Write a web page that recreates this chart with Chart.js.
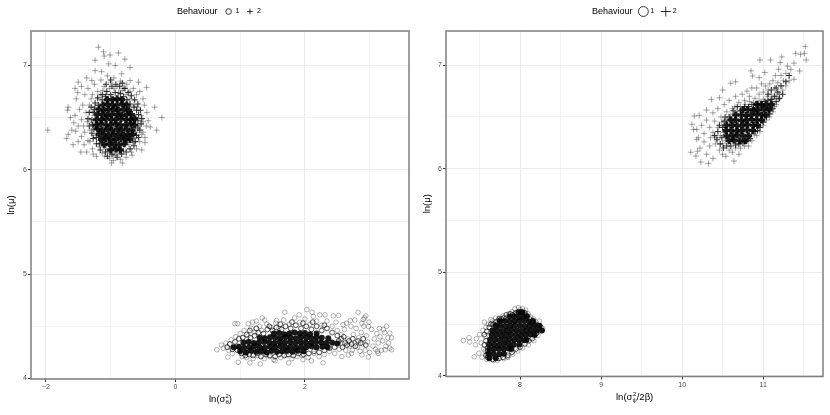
<!DOCTYPE html>
<html>
<head>
<meta charset="utf-8">
<title>Behaviour scatter</title>
<script src="https://cdn.jsdelivr.net/npm/chart.js@4"></script>
<style>
  body { margin: 0; background: #fff; font-family: "Liberation Sans", sans-serif; }
  #page { position: relative; width: 830px; height: 415px; overflow: hidden; }
  canvas { position: absolute; top: 0; filter: blur(0.35px); }
  .lab { position: absolute; white-space: nowrap; color: #000; }
  .stack { display: inline-flex; flex-direction: column; vertical-align: middle; font-size: 6px; line-height: 6px; text-align: center; }
</style>
</head>
<body>
<div id="page">
  <canvas id="leftChart"></canvas>
  <canvas id="rightChart"></canvas>
  <div class="lab" style="left:177px;top:6px;font-size:9px">Behaviour</div>
  <div class="lab" style="left:592px;top:6px;font-size:9px">Behaviour</div>
  <div class="lab" style="left:209px;top:393px;font-size:9.5px">ln(σ<span class="stack"><span>2</span><span>θ</span></span>)</div>
  <div class="lab" style="left:616px;top:391px;font-size:9.5px">ln(σ<span class="stack"><span>2</span><span>ψ</span></span>/2β)</div>
</div>
<script>
// left panel: ln(sigma^2) against ln(mu)
const leftCircles = [[.64,4.275],[.71,4.32],[.92,4.525],[.96,4.525],[1.125,4.525],[1.19,4.54],[1.25,4.55],[1.34,4.58],[1.38,4.56],[1.69,4.635],[1.56,4.555],[1.91,4.61],[2.03,4.66],[2.11,4.635],[2.13,4.595],[2.23,4.61],[2.31,4.61],[2.44,4.6],[2.52,4.605],[2.82,4.635],[2.94,4.6],[2.9,4.565],[2.7,4.555],[2.59,4.515],[2.88,4.53],[3.26,4.5],[3.21,4.47],[3.31,4.435],[3.34,4.39],[3.29,4.34],[3.34,4.275],[3.24,4.275],[3.13,4.24],[2.98,4.205],[2.88,4.225],[2.67,4.225],[2.57,4.21],[2.28,4.15],[2.1,4.17],[1.97,4.18],[1.75,4.15],[1.54,4.17],[1.31,4.14],[1.15,4.15],[.97,4.155],[.81,4.205],
  [.74,4.29],[.78,4.34],[.82,4.27],[.86,4.37],[.88,4.24],[.93,4.4],[.95,4.31],[1.0,4.43],[1.03,4.21],[1.06,4.46],[1.1,4.2],[1.12,4.41],[1.17,4.48],[1.2,4.19],[1.23,4.44],[1.27,4.22],[1.3,4.5],[1.33,4.46],[1.37,4.19],[1.41,4.52],[1.45,4.21],[1.48,4.49],[1.52,4.18],[1.55,4.53],[1.6,4.48],[1.63,4.2],[1.67,4.56],[1.72,4.22],[1.76,4.52],[1.8,4.19],[1.84,4.58],[1.88,4.21],[1.92,4.54],[1.96,4.22],[2.0,4.57],[2.05,4.2],[2.08,4.52],[2.14,4.24],[2.18,4.55],[2.22,4.21],[2.26,4.51],[2.3,4.23],[2.34,4.55],[2.38,4.26],[2.42,4.5],[2.46,4.24],[2.5,4.46],[2.53,4.28],[2.56,4.42],[2.58,4.33],[2.61,4.47],[2.63,4.27],[2.66,4.38],[2.69,4.31],[2.71,4.5],[2.73,4.27],[2.75,4.42],[2.77,4.34],[2.79,4.48],[2.81,4.3],[2.83,4.39],[2.85,4.26],[2.87,4.44],[2.89,4.33],[2.91,4.5],[2.93,4.27],[2.95,4.41],[2.97,4.35],[2.99,4.54],[3.0,4.25],[3.03,4.47],[3.05,4.31],[3.07,4.38],[3.09,4.28],[3.11,4.43],[3.13,4.34],[3.16,4.4],[3.18,4.27],[3.2,4.36],[3.23,4.44],[3.25,4.31],[3.28,4.39],[3.31,4.29],[2.92,4.58],[2.98,4.5],[2.77,4.56],[2.64,4.53],[2.48,4.54],[3.15,4.48],[3.12,4.26],[2.72,4.24]];
const leftCirclesMid = [[.8,4.3],[.84,4.33],[.88,4.28],[.92,4.35],[.96,4.27],[.98,4.38],[1.02,4.24],[1.04,4.39],[1.08,4.22],[1.1,4.42],[1.14,4.23],[1.16,4.39],[1.2,4.22],[1.22,4.41],[1.26,4.24],[1.28,4.44],[1.32,4.21],[1.36,4.43],[1.4,4.23],[1.42,4.47],[1.46,4.22],[1.5,4.46],[1.54,4.21],[1.56,4.49],[1.6,4.23],[1.64,4.47],[1.68,4.22],[1.7,4.5],[1.75,4.23],[1.78,4.48],[1.82,4.22],[1.86,4.51],[1.9,4.24],[1.94,4.48],[1.98,4.23],[2.02,4.5],[2.06,4.24],[2.1,4.47],[2.14,4.26],[2.18,4.5],[2.22,4.25],[2.26,4.46],[2.3,4.27],[2.34,4.48],[2.38,4.29],[2.42,4.44],[2.46,4.3],[2.5,4.41],[2.52,4.36],[2.56,4.38],[2.58,4.3],[2.6,4.4],[2.62,4.34],[2.65,4.32],[2.68,4.36],[2.72,4.33],[2.74,4.38],[2.78,4.31],[2.82,4.36],[2.86,4.34],[2.9,4.38],[2.94,4.32],[1.15,4.46],[1.25,4.48],[1.45,4.5],[1.62,4.52],[1.8,4.54],[1.97,4.53],[2.12,4.54],[2.3,4.51]];
const leftCirclesCore = [[1.0,4.26],[1.09,4.25],[1.17,4.265],[1.25,4.255],[1.33,4.26],[1.41,4.25],[1.49,4.265],[1.57,4.255],[1.65,4.26],[1.73,4.265],[1.81,4.255],[1.89,4.265],[1.98,4.26],
  [.9,4.3],[.98,4.305],[1.06,4.295],[1.14,4.3],[1.22,4.31],[1.3,4.3],[1.38,4.295],[1.46,4.305],[1.54,4.3],[1.62,4.31],[1.7,4.3],[1.78,4.305],[1.86,4.295],[1.94,4.305],[2.02,4.3],[2.1,4.31],[2.18,4.3],[2.27,4.305],[2.35,4.3],
  [1.05,4.345],[1.13,4.35],[1.21,4.34],[1.29,4.345],[1.37,4.35],[1.45,4.345],[1.53,4.34],[1.61,4.35],[1.69,4.345],[1.77,4.35],[1.85,4.34],[1.93,4.35],[2.01,4.345],[2.09,4.34],[2.17,4.35],[2.25,4.345],[2.33,4.34],[2.42,4.345],[2.5,4.335],
  [1.3,4.39],[1.38,4.385],[1.46,4.395],[1.54,4.39],[1.62,4.385],[1.7,4.395],[1.78,4.39],[1.86,4.385],[1.94,4.395],[2.02,4.39],[2.1,4.385],[2.18,4.395],[2.26,4.39],[2.36,4.385],
  [1.52,4.43],[1.6,4.435],[1.68,4.425],[1.76,4.43],[1.84,4.44],[1.92,4.43],[2.0,4.435],[2.08,4.425],[2.18,4.43]];
const leftCrosses = [[-1.97,6.38],[-.21,6.5],[-.32,6.6],[-.29,6.38],[-1.19,7.175],[-1.11,7.13],[-1.01,7.1],[-.88,7.12],[-1.1,7.09],[-1.24,7.05],[-.78,7.06],[-.7,6.98],[-1.03,7.015],[-.93,7.0],[-1.24,6.95],[-1.14,6.94],[-.83,6.92],[-1.5,6.84],[-1.37,6.88],[-1.29,6.855],[-1.55,6.78],[-1.51,6.74],[-1.53,6.68],[-1.655,6.6],[-1.665,6.57],[-1.655,6.34],[-1.68,6.3],[-1.58,6.24],[-1.46,6.17],[-1.27,6.15],[-1.09,6.13],[-.96,6.09],[-.82,6.065],[-.985,6.065],[-.68,6.17],[-.52,6.19],[-.47,6.31],[-.39,6.41],[-.445,6.79],[-.57,6.84],[-.7,6.855],
  [-1.45,6.8],[-1.4,6.72],[-1.35,6.78],[-1.3,6.68],[-1.25,6.82],[-1.2,6.75],[-1.15,6.86],[-1.1,6.8],[-1.05,6.9],[-1.0,6.84],[-.95,6.88],[-.9,6.8],[-.85,6.85],[-.8,6.78],[-.75,6.82],[-.7,6.75],[-.65,6.78],[-.6,6.72],[-.55,6.75],[-.5,6.68],[-.48,6.62],[-.44,6.55],[-.42,6.47],[-.45,6.42],[-.5,6.36],[-.47,6.26],[-.55,6.27],[-.6,6.2],[-.63,6.3],[-.67,6.14],[-.72,6.24],[-.76,6.12],[-.8,6.18],[-.85,6.1],[-.9,6.16],[-.96,6.14],[-1.02,6.11],[-1.07,6.2],[-1.13,6.16],[-1.18,6.22],[-1.22,6.13],[-1.28,6.2],[-1.32,6.27],[-1.37,6.17],[-1.41,6.24],[-1.45,6.32],[-1.5,6.27],[-1.54,6.37],[-1.57,6.45],[-1.6,6.38],[-1.62,6.5],[-1.55,6.52],[-1.5,6.42],[-1.48,6.58],[-1.45,6.48],[-1.43,6.62],[-1.4,6.36],[-1.38,6.55],[-1.35,6.28],[-1.33,6.62],[-1.3,6.45],[-1.28,6.72],[-1.26,6.33],[-1.24,6.6],[-1.22,6.4],[-1.2,6.68],[-1.18,6.28],[-1.16,6.72],[-1.14,6.36],[-1.12,6.76],[-1.09,6.24],[-1.07,6.72],[-1.04,6.18],[-1.02,6.78],[-.98,6.2],[-.95,6.78],[-.92,6.14],[-.88,6.74],[-.84,6.2],[-.82,6.76],[-.78,6.24],[-.76,6.72],[-.72,6.32],[-.7,6.68],[-.66,6.26],[-.64,6.62],[-.61,6.36],[-.58,6.6],[-.56,6.42],[-.53,6.52],[-.52,6.34],[-.5,6.46],[-.6,6.5],[-1.25,6.52],[-1.32,6.38],[-1.42,6.42],[-1.36,6.46]];
const leftCrossesMid = [[-1.05,6.13],[-.98,6.15],[-.9,6.12],[-.83,6.15],[-.76,6.17],[-1.16,6.19],[-1.08,6.17],[-.7,6.2],[-.64,6.23],[-1.22,6.25],[-1.17,6.25],[-.62,6.27],[-.57,6.31],[-1.27,6.3],[-1.22,6.31],[-.6,6.33],[-.55,6.38],[-1.29,6.35],[-1.26,6.39],[-.58,6.4],[-.53,6.44],[-1.33,6.42],[-1.28,6.43],[-.58,6.47],[-.52,6.49],[-1.35,6.49],[-1.29,6.48],[-.57,6.53],[-.54,6.57],[-1.33,6.55],[-1.27,6.55],[-.6,6.57],[-.58,6.63],[-1.3,6.6],[-1.25,6.58],[-.64,6.6],[-.63,6.67],[-1.24,6.64],[-1.19,6.62],[-.7,6.63],[-.68,6.71],[-1.2,6.69],[-1.13,6.67],[-.75,6.67],[-.73,6.74],[-1.13,6.72],[-1.08,6.7],[-.8,6.7],[-.78,6.78],[-1.06,6.75],[-1.0,6.72],[-.85,6.73],[-.86,6.8],[-.98,6.8],[-.93,6.74],[-.92,6.82],[-1.0,6.86],[-1.07,6.82],[-.82,6.83]];
const leftCrossesCore = [[-1.0,6.19],[-.92,6.2],[-.85,6.19],
  [-1.1,6.24],[-1.02,6.25],[-.95,6.24],[-.87,6.24],[-.79,6.25],
  [-1.14,6.29],[-1.07,6.3],[-.99,6.29],[-.92,6.29],[-.84,6.3],[-.76,6.29],[-.7,6.29],
  [-1.18,6.34],[-1.1,6.34],[-1.03,6.33],[-.95,6.34],[-.88,6.34],[-.8,6.33],[-.73,6.34],[-.66,6.34],
  [-1.2,6.39],[-1.13,6.38],[-1.05,6.39],[-.98,6.38],[-.9,6.39],[-.83,6.38],[-.75,6.39],[-.67,6.38],
  [-1.22,6.43],[-1.15,6.44],[-1.07,6.43],[-1.0,6.43],[-.92,6.44],[-.85,6.43],[-.77,6.43],[-.69,6.44],[-.63,6.43],
  [-1.22,6.48],[-1.14,6.48],[-1.07,6.49],[-.99,6.48],[-.92,6.48],[-.84,6.49],[-.76,6.48],[-.69,6.48],[-.63,6.49],
  [-1.2,6.53],[-1.13,6.53],[-1.05,6.52],[-.98,6.53],[-.9,6.53],[-.83,6.52],[-.75,6.53],[-.68,6.53],
  [-1.18,6.58],[-1.1,6.57],[-1.03,6.58],[-.95,6.58],[-.88,6.57],[-.8,6.58],[-.72,6.57],
  [-1.12,6.62],[-1.05,6.63],[-.97,6.62],[-.9,6.62],[-.82,6.63],[-.75,6.62],
  [-1.05,6.67],[-.97,6.67],[-.9,6.68],[-.83,6.67]];

// right panel: ln(sigma^2 / 2 beta) against ln(mu)
const rightCircles = [[7.3,4.343],[7.37,4.37],[7.38,4.327],[7.435,4.185],[7.45,4.3],[7.5,4.4],[7.49,4.22],[7.56,4.52],[7.64,4.546],[7.7,4.56],[7.935,4.649],[7.98,4.66],[8.07,4.636],[8.24,4.53],[8.28,4.459],[7.59,4.16],[7.845,4.185],
  [7.46,4.36],[7.52,4.32],[7.54,4.44],[7.55,4.26],[7.57,4.38],[7.58,4.47],[7.59,4.21],[7.6,4.31],[7.61,4.5],[7.63,4.42],[7.66,4.53],[7.68,4.48],[7.72,4.53],[7.75,4.56],[7.79,4.58],[7.83,4.56],[7.86,4.6],[7.9,4.62],[7.93,4.6],[8.0,4.64],[8.03,4.65],[8.05,4.6],[8.1,4.6],[8.13,4.57],[8.17,4.55],[8.2,4.52],[8.22,4.49],[8.26,4.47],[8.25,4.43],[8.22,4.39],[8.17,4.34],[8.1,4.3],[8.03,4.27],[7.97,4.24],[7.91,4.21],[7.85,4.18],[7.8,4.165],[7.72,4.15],[7.67,4.15],[7.62,4.18],[7.57,4.24],[7.53,4.18]];
const rightCirclesMid = [[7.56,4.3],[7.58,4.34],[7.56,4.4],[7.59,4.43],[7.6,4.27],[7.58,4.2],[7.6,4.18],[7.62,4.47],[7.64,4.5],[7.67,4.5],[7.7,4.52],[7.72,4.5],[7.74,4.55],[7.77,4.55],[7.8,4.56],[7.83,4.59],[7.88,4.6],[7.91,4.59],[7.95,4.61],[8.01,4.62],[8.06,4.61],[8.09,4.58],[8.12,4.55],[8.15,4.52],[8.19,4.5],[8.22,4.46],[8.24,4.44],[8.2,4.41],[8.15,4.36],[8.11,4.34],[8.06,4.31],[8.0,4.28],[7.95,4.26],[7.9,4.23],[7.85,4.2],[7.79,4.18],[7.74,4.17],[7.66,4.16],[7.6,4.24]];
const rightCirclesCore = [[7.62,4.17],[7.7,4.17],
  [7.61,4.215],[7.67,4.215],[7.74,4.21],[7.8,4.215],
  [7.62,4.26],[7.68,4.26],[7.74,4.26],[7.8,4.26],[7.86,4.265],[7.89,4.26],
  [7.62,4.305],[7.68,4.305],[7.74,4.3],[7.8,4.305],[7.86,4.31],[7.92,4.305],[7.99,4.305],
  [7.63,4.35],[7.69,4.35],[7.75,4.345],[7.81,4.35],[7.87,4.355],[7.93,4.35],[7.99,4.35],[8.05,4.345],[8.08,4.35],
  [7.65,4.395],[7.71,4.395],[7.77,4.39],[7.83,4.395],[7.89,4.4],[7.95,4.395],[8.01,4.39],[8.07,4.395],[8.13,4.4],[8.18,4.395],
  [7.66,4.44],[7.72,4.44],[7.78,4.435],[7.84,4.44],[7.9,4.445],[7.96,4.44],[8.02,4.435],[8.08,4.44],[8.14,4.445],[8.2,4.44],[8.27,4.44],
  [7.7,4.485],[7.76,4.485],[7.82,4.48],[7.88,4.485],[7.94,4.49],[8.0,4.485],[8.06,4.48],[8.12,4.485],[8.18,4.49],[8.24,4.485],
  [7.75,4.53],[7.81,4.53],[7.87,4.525],[7.93,4.53],[7.99,4.535],[8.05,4.53],[8.11,4.525],[8.16,4.53],
  [7.87,4.575],[7.93,4.575],[7.99,4.57],[8.05,4.575],[8.08,4.575],
  [7.98,4.615],[8.03,4.615]];
const rightCrosses = [[11.52,7.18],[11.4,7.115],[11.46,7.105],[11.51,7.115],[11.53,7.05],[11.45,6.944],[11.38,6.864],[11.23,7.08],[11.21,7.025],[11.09,7.05],[10.96,7.05],[11.38,7.02],[11.19,6.96],[11.02,6.93],[10.85,6.945],[10.95,6.88],[10.87,6.896],[10.66,6.84],[10.6,6.825],[10.5,6.76],[10.36,6.67],[10.46,6.686],[10.3,6.567],[10.15,6.51],[10.21,6.516],[10.12,6.43],[10.14,6.38],[10.18,6.284],[10.107,6.16],[10.19,6.17],[10.17,6.123],[10.23,6.065],[10.325,6.052],[10.5,6.14],[10.64,6.075],[10.7,6.14],[10.89,6.33],[11.07,6.56],[11.19,6.67],[11.32,6.85],
  [11.34,6.96],[11.28,6.92],[11.3,6.99],[11.25,6.85],[11.22,6.9],[11.18,6.83],[11.15,6.9],[11.14,6.78],[11.12,6.85],[11.1,6.72],[11.08,6.82],[11.06,6.76],[11.03,6.8],[11.0,6.74],[10.98,6.82],[10.95,6.72],[10.92,6.78],[10.9,6.68],[10.86,6.78],[10.83,6.7],[10.8,6.75],[10.77,6.66],[10.74,6.72],[10.7,6.64],[10.66,6.7],[10.62,6.58],[10.58,6.66],[10.55,6.55],[10.52,6.62],[10.48,6.5],[10.44,6.58],[10.4,6.46],[10.38,6.54],[10.34,6.4],[10.3,6.47],[10.27,6.34],[10.24,6.42],[10.2,6.3],[10.18,6.38],[10.22,6.2],[10.27,6.26],[10.3,6.14],[10.34,6.22],[10.38,6.1],[10.42,6.3],[10.46,6.18],[10.5,6.24],[10.54,6.12],[10.58,6.18],[10.62,6.16],[10.66,6.2],[10.72,6.2],[10.77,6.22],[10.82,6.22],[10.86,6.27],[10.92,6.32],[10.96,6.36],[11.0,6.42],[11.04,6.47],[11.08,6.5],[11.12,6.55],[11.16,6.62],[11.2,6.72],[11.24,6.76],[11.28,6.8],
  [10.35,6.3],[10.38,6.35],[10.41,6.24],[10.44,6.4],[10.47,6.32],[10.49,6.45],[10.51,6.35],[10.53,6.27],[10.55,6.47],[10.6,6.52],[10.65,6.6],[10.68,6.55],[10.72,6.6],[10.78,6.62],[10.83,6.65],[10.88,6.64],[10.95,6.66],[11.0,6.67],[11.05,6.7],[11.12,6.68],[11.16,6.7],[11.14,6.6],[11.11,6.64],[11.09,6.58]];
const rightCrossesMid = [[10.4,6.32],[10.43,6.28],[10.44,6.36],[10.46,6.42],[10.47,6.24],[10.49,6.3],[10.5,6.4],[10.51,6.2],[10.52,6.46],[10.55,6.22],[10.53,6.5],[10.58,6.5],[10.6,6.22],[10.63,6.56],[10.66,6.23],[10.68,6.6],[10.7,6.24],[10.72,6.56],[10.75,6.25],[10.77,6.6],[10.8,6.27],[10.82,6.6],[10.84,6.29],[10.86,6.62],[10.88,6.58],[10.9,6.36],[10.93,6.37],[10.94,6.62],[10.96,6.4],[10.98,6.62],[11.0,6.45],[11.02,6.65],[11.04,6.5],[11.06,6.66],[11.08,6.53],[11.1,6.67],[11.12,6.58],[11.14,6.7],[11.16,6.65],[11.18,6.74],[11.2,6.68],[11.22,6.8],[11.24,6.72],[11.16,6.78],[11.1,6.76],[11.06,6.72],[11.28,6.84],[11.32,6.9]];
const rightCrossesCore = [[10.58,6.27],[10.64,6.275],[10.71,6.27],[10.78,6.27],
  [10.55,6.32],[10.62,6.32],[10.68,6.325],[10.75,6.32],[10.82,6.32],
  [10.54,6.37],[10.6,6.37],[10.67,6.365],[10.73,6.37],[10.8,6.375],[10.87,6.37],
  [10.55,6.42],[10.62,6.42],[10.68,6.415],[10.75,6.42],[10.81,6.425],[10.88,6.42],[10.93,6.42],
  [10.6,6.47],[10.66,6.47],[10.73,6.465],[10.79,6.47],[10.86,6.475],[10.92,6.47],[10.98,6.47],
  [10.66,6.52],[10.73,6.52],[10.79,6.515],[10.85,6.52],[10.92,6.525],[10.98,6.52],[11.03,6.52],
  [10.75,6.57],[10.81,6.57],[10.88,6.565],[10.94,6.57],[11.01,6.575],[11.07,6.57],
  [10.92,6.62],[10.98,6.62],[11.04,6.615],[11.1,6.62]];

// grid lines and the ones that get a label
const leftGridX = [-2, -1, 0, 1, 2, 3];
const leftLabelsX = [-2, 0, 2];
const rightGridX = [7.5, 8, 8.5, 9, 9.5, 10, 10.5, 11, 11.5];
const rightLabelsX = [8, 9, 10, 11];
const gridY = [4, 4.5, 5, 5.5, 6, 6.5, 7];
const labelsY = [4, 5, 6, 7];

const toPoints = pairs => pairs.map(p => ({ x: p[0], y: p[1] }));

// the frame and the legend position, Chart.js has no option for either
const panelFrame = {
    id: 'panelFrame',
    afterLayout(chart, args, opts) {
        chart.legend.top = 8 - opts.legendPad;
        chart.legend.left += opts.shift;
        chart.legend.right += opts.shift;
    },
    afterDatasetsDraw(chart) {
        const a = chart.chartArea;
        const ctx = chart.ctx;
        ctx.save();
        ctx.strokeStyle = '#7f7f7f';
        ctx.lineWidth = 1.5;
        ctx.strokeRect(a.left, a.top, a.right - a.left, a.bottom - a.top);
        ctx.restore();
    }
};

const createPanel = (id, cfg) => {
    const canvas = document.getElementById(id);
    canvas.style.left = cfg.left + 'px';
    const tickFont = { family: 'Liberation Sans', size: 7 };

    new Chart(canvas, {
        type: 'scatter',
        data: {
            datasets: [
                { label: '1', data: toPoints(cfg.circles), pointStyle: 'circle', pointRadius: 2.3, pointBorderWidth: 0.6, pointBackgroundColor: 'transparent', pointBorderColor: 'rgba(0,0,0,0.5)' },
                { label: '2', data: toPoints(cfg.crosses), pointStyle: 'cross', pointRadius: 3, pointBorderWidth: 0.7, pointBorderColor: 'rgba(0,0,0,0.5)' },
                { label: '1', data: toPoints(cfg.circlesMid), pointStyle: 'circle', pointRadius: 2.4, pointBorderWidth: 0.9, pointBackgroundColor: 'transparent', pointBorderColor: 'rgba(0,0,0,0.75)' },
                { label: '2', data: toPoints(cfg.crossesMid), pointStyle: 'cross', pointRadius: 3, pointBorderWidth: 1.1, pointBorderColor: 'rgba(0,0,0,0.8)' },
                { label: '1', data: toPoints(cfg.circlesCore), pointStyle: 'circle', pointRadius: 3, pointBorderWidth: 0, pointBackgroundColor: 'rgba(0,0,0,0.9)' },
                { label: '2', data: toPoints(cfg.crossesCore), pointStyle: 'cross', pointRadius: 3.5, pointBorderWidth: 3, pointBorderColor: 'rgba(0,0,0,0.9)' }
            ]
        },
        plugins: [panelFrame],
        options: {
            responsive: false,
            animation: false,
            layout: { padding: { top: 14 - cfg.legendPad, right: cfg.padRight } },
            plugins: {
                panelFrame: { shift: cfg.legendShift, legendPad: cfg.legendPad },
                tooltip: { enabled: false },
                legend: {
                    position: 'top',
                    onClick: null,
                    labels: {
                        usePointStyle: true,
                        boxHeight: cfg.legendBox,
                        padding: cfg.legendPad,
                        color: '#000',
                        font: { family: 'Liberation Sans', size: 7 },
                        generateLabels: () => [
                            { text: '1', pointStyle: 'circle', fillStyle: 'transparent', strokeStyle: '#000', lineWidth: 0.8, datasetIndex: 0 },
                            { text: '2', pointStyle: 'cross', fillStyle: 'transparent', strokeStyle: '#000', lineWidth: 0.8, datasetIndex: 1 }
                        ]
                    }
                }
            },
            scales: {
                x: {
                    type: 'linear',
                    min: cfg.xMin,
                    max: cfg.xMax,
                    afterBuildTicks: scale => { scale.ticks = cfg.gridX.map(v => ({ value: v })); },
                    afterFit: scale => { scale.height = cfg.xHeight; },
                    grid: {
                        color: c => cfg.labelsX.includes(c.tick.value) ? '#ebebeb' : '#f3f3f3',
                        tickColor: c => cfg.labelsX.includes(c.tick.value) ? '#333' : 'transparent',
                        tickLength: 3,
                        drawTicks: true
                    },
                    border: { display: false },
                    ticks: {
                        autoSkip: false,
                        maxRotation: 0,
                        padding: 1,
                        color: '#4d4d4d',
                        font: tickFont,
                        callback: v => cfg.labelsX.includes(v) ? (v < 0 ? '\u2212' + (-v) : String(v)) : ''
                    }
                },
                y: {
                    type: 'linear',
                    min: 3.995,
                    max: 7.33,
                    afterBuildTicks: scale => { scale.ticks = gridY.map(v => ({ value: v })); },
                    afterFit: scale => { scale.width = cfg.yWidth; },
                    title: { display: true, text: 'ln(\u03bc)', color: '#000', padding: { top: cfg.titlePad, bottom: 0 }, font: { family: 'Liberation Sans', size: 9.5 } },
                    grid: {
                        color: c => labelsY.includes(c.tick.value) ? '#ebebeb' : '#f3f3f3',
                        tickColor: c => labelsY.includes(c.tick.value) ? '#333' : 'transparent',
                        tickLength: 3
                    },
                    border: { display: false },
                    ticks: {
                        autoSkip: false,
                        padding: 1,
                        color: '#4d4d4d',
                        font: tickFont,
                        callback: v => labelsY.includes(v) ? String(v) : ''
                    }
                }
            }
        }
    });
};

const leftEl = document.getElementById('leftChart');
leftEl.width = 420; leftEl.height = 415;
const rightEl = document.getElementById('rightChart');
rightEl.width = 410; rightEl.height = 415;

createPanel('leftChart', {
    left: 0, padRight: 11, xHeight: 36, yWidth: 31, legendBox: 4, legendPad: 7, legendShift: 38.5, titlePad: 6,
    xMin: -2.23, xMax: 3.607, gridX: leftGridX, labelsX: leftLabelsX,
    circles: leftCircles, circlesMid: leftCirclesMid, circlesCore: leftCirclesCore,
    crosses: leftCrosses, crossesMid: leftCrossesMid, crossesCore: leftCrossesCore
});
createPanel('rightChart', {
    left: 420, padRight: 5.5, xHeight: 38.5, yWidth: 26, legendBox: 7, legendPad: 8, legendShift: 36, titlePad: 2,
    xMin: 7.086, xMax: 11.738, gridX: rightGridX, labelsX: rightLabelsX,
    circles: rightCircles, circlesMid: rightCirclesMid, circlesCore: rightCirclesCore,
    crosses: rightCrosses, crossesMid: rightCrossesMid, crossesCore: rightCrossesCore
});
</script>
</body>
</html>
